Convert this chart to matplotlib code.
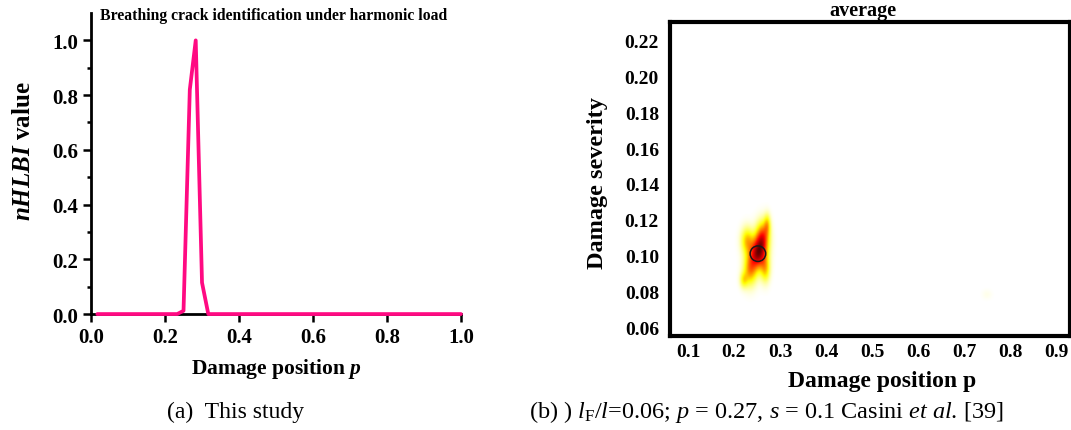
import numpy as np
import matplotlib.pyplot as plt

plt.rcParams["font.family"] = ["Liberation Serif", "DejaVu Serif"]
plt.rcParams["mathtext.fontset"] = "custom"
plt.rcParams["mathtext.rm"] = "Liberation Serif"
plt.rcParams["mathtext.it"] = "Liberation Serif:italic"
plt.rcParams["mathtext.bf"] = "Liberation Serif:bold"
plt.rcParams["mathtext.bfit"] = "Liberation Serif:bold:italic"

# (a) nHLBI along the beam
pos = [0.017, 0.233, 0.250, 0.267, 0.283, 0.300, 0.317, 1.000]
nhlbi = [0.0, 0.0, 0.012, 0.82, 1.0, 0.115, 0.0, 0.0]

# (b) density blob: centre p, centre s, width p, width s, weight
blob_p = [0.252, 0.262, 0.272, 0.235, 0.221, 0.228, 0.268, 0.750]
blob_s = [0.101, 0.110, 0.117, 0.092, 0.086, 0.108, 0.092, 0.078]
blob_wp = [0.012, 0.010, 0.005, 0.010, 0.006, 0.009, 0.007, 0.008]
blob_ws = [0.006, 0.006, 0.004, 0.006, 0.003, 0.005, 0.005, 0.002]
blob_amp = [1.0, 0.70, 0.35, 0.55, 0.30, 0.45, 0.40, 0.03]
true_p, true_s = 0.252, 0.101

p_ticks = [0.1, 0.2, 0.3, 0.4, 0.5, 0.6, 0.7, 0.8, 0.9]
s_ticks = [0.06, 0.08, 0.10, 0.12, 0.14, 0.16, 0.18, 0.20, 0.22]

fig = plt.figure(figsize=(10.71, 4.31), dpi=100)

# ---- left panel
ax = fig.add_axes([0.085, 0.269, 0.3454, 0.6985])
ax.plot(pos, nhlbi, color="#ff0a82", lw=2.7, solid_joinstyle="round",
        solid_capstyle="round", zorder=3, clip_on=False)
ax.set_xlim(0, 1.0)
ax.set_ylim(0, 1.1)
ax.set_xticks(np.arange(0, 1.01, 0.2))
ax.set_yticks(np.arange(0, 1.01, 0.2))
ax.set_yticks(np.arange(0.1, 1.1, 0.2), minor=True)
ax.xaxis.set_major_formatter(plt.FormatStrFormatter("%.1f"))
ax.yaxis.set_major_formatter(plt.FormatStrFormatter("%.1f"))
ax.spines[["top", "right"]].set_visible(False)
for sp in ["left", "bottom"]:
    ax.spines[sp].set_linewidth(2.0)
ax.tick_params(which="major", direction="out", length=6, width=1.8,
               labelsize=15, pad=3)
ax.tick_params(which="minor", direction="out", length=3, width=1.8)
for lab in ax.get_xticklabels() + ax.get_yticklabels():
    lab.set_fontweight("bold")

fig.text(100 / 1071, 1 - 16 / 431,
         "Breathing crack identification under harmonic load",
         fontsize=11.3, fontweight="bold", ha="left", va="center")
fig.text(0.0215, 0.65, r"$\mathbfit{nHLBI}$ value", rotation=90,
         fontsize=18, fontweight="bold", ha="center", va="center")
fig.text(0.2586, 0.1439, r"Damage position $\mathbfit{p}$",
         fontsize=15.5, fontweight="bold", ha="center", va="center")

# ---- right panel
ax2 = fig.add_axes([0.6256, 0.218, 0.3734, 0.7286])
xlo, xhi, ylo, yhi = 0.061, 0.93, 0.055, 0.2304
gp = np.linspace(xlo, xhi, 700)
gs = np.linspace(ylo, yhi, 500)
P, S = np.meshgrid(gp, gs)
field = np.zeros_like(P)
for cp, cs, wp, ws, a in zip(blob_p, blob_s, blob_wp, blob_ws, blob_amp):
    field += a * np.exp(-0.5 * (((P - cp) / wp) ** 2 + ((S - cs) / ws) ** 2))
ax2.imshow(field, extent=[xlo, xhi, ylo, yhi], origin="lower",
           cmap="hot_r", vmin=0, vmax=field.max() / 0.88, aspect="auto",
           interpolation="bilinear")
ax2.scatter([true_p], [true_s], s=125, facecolor="none",
            edgecolor="#1a1a1a", linewidth=1.1, zorder=4)
ax2.set_xlim(xlo, xhi)
ax2.set_ylim(ylo, yhi)
ax2.set_xticks(p_ticks)
ax2.set_xticklabels([f"{v:.1f}" for v in p_ticks])
ax2.set_yticks(s_ticks)
ax2.set_yticklabels([f"{v:.2f}" for v in s_ticks])
ax2.tick_params(axis="x", length=0, labelsize=14, pad=5)
ax2.tick_params(axis="y", length=0, labelsize=14, pad=8)
for lab in ax2.get_xticklabels() + ax2.get_yticklabels():
    lab.set_fontweight("bold")
for sp in ax2.spines.values():
    sp.set_linewidth(3.0)

fig.text(0.806, 0.975, "average", fontsize=14.5, fontweight="bold",
         ha="center", va="center")
fig.text(0.558, 0.575, "Damage severity", rotation=90, fontsize=17.5,
         fontweight="bold", ha="center", va="center")
fig.text(0.8235, 0.1137, "Damage position p", fontsize=17,
         fontweight="bold", ha="center", va="center")

# ---- captions
fig.text(0.2204, 0.044, "(a)  This study", fontsize=17, ha="center",
         va="center")
fig.text(0.494, 0.044,
         r"(b) ) $l_{\mathrm{F}}/l$=0.06; $p$ = 0.27, $s$ = 0.1 Casini "
         r"$et\ al$. [39]", fontsize=17.5, ha="left", va="center")

fig.savefig("out.png", dpi=100)
